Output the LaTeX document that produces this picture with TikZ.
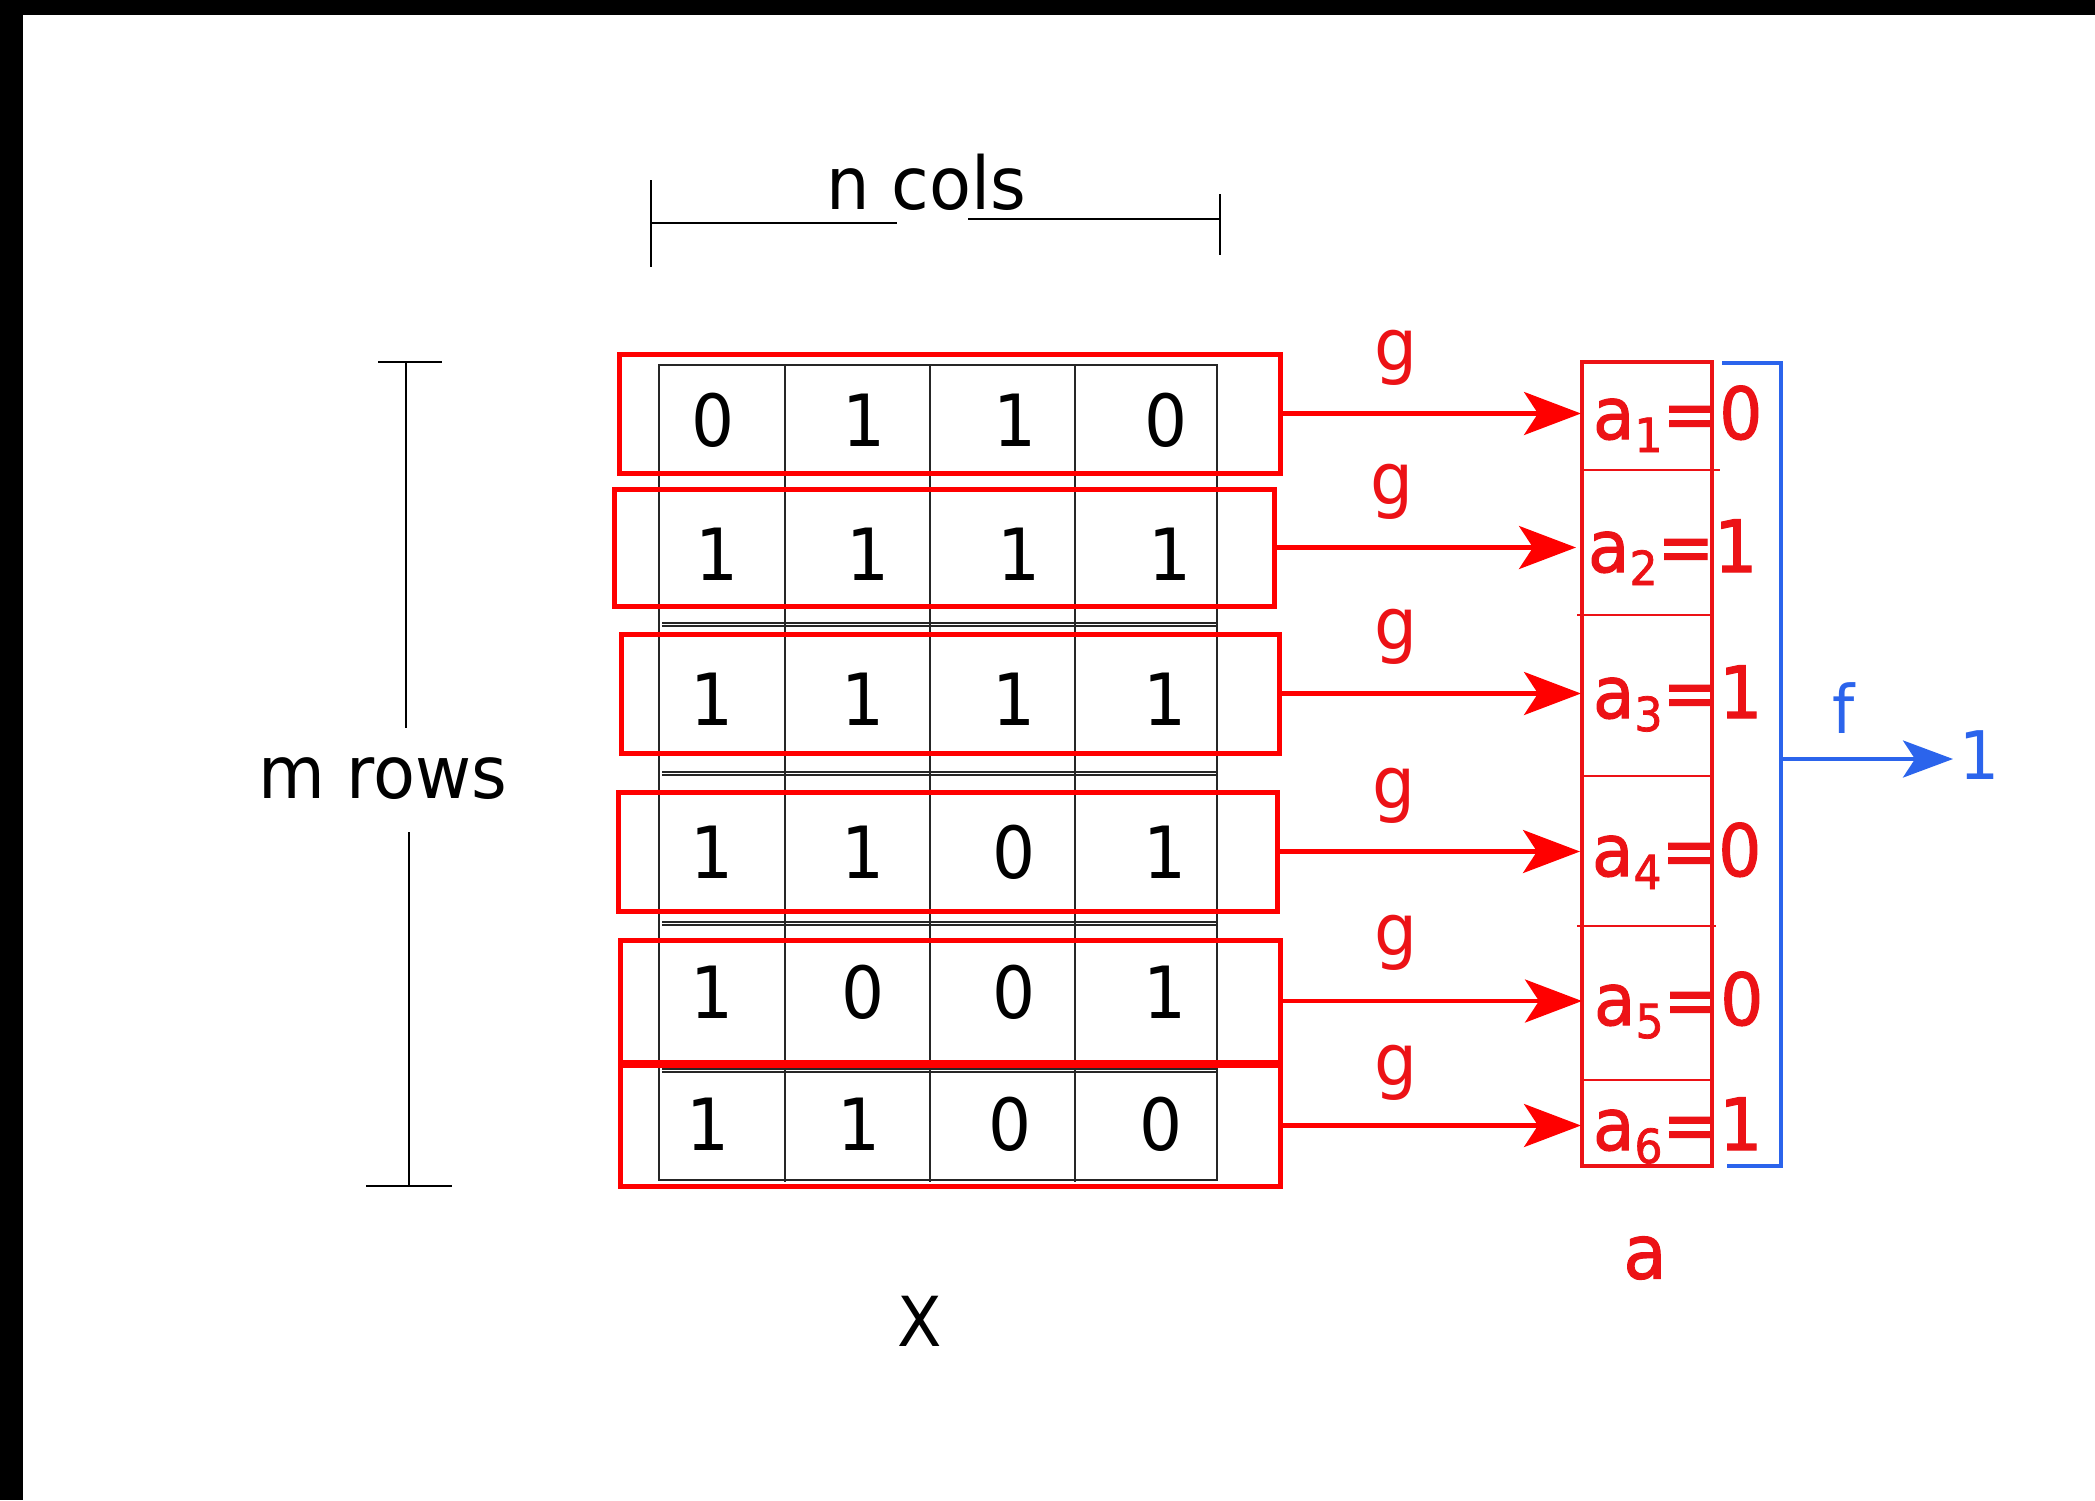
\documentclass[tikz,border=0pt]{standalone}
\usepackage{fontspec}
\setmainfont{DejaVu Sans}[FakeStretch=0.94]
\newfontfamily\heavylabel{DejaVu Sans}[FakeStretch=0.94, FakeBold=1.6]
\usetikzlibrary{arrows.meta}

\definecolor{boxred}{RGB}{255,0,0}
\definecolor{labelred}{RGB}{236,18,22}
\definecolor{fblue}{RGB}{43,100,236}

% a_i = value, with a lowered index
\newcommand\alabel[2]{a\raisebox{-13pt}{\fontsize{47}{47}\selectfont #1}=#2}

\begin{document}
\begin{tikzpicture}[x=1pt,y=-1pt,
  every node/.style={inner sep=0pt, outer sep=0pt},
  bline/.style={draw=black, line width=1.5pt},
  gridline/.style={draw=black!85, line width=1.4pt},
  rowbox/.style={draw=boxred, line width=5pt, outer sep=3pt},
  digit/.style={font=\fontsize{72}{80}\selectfont},
  bigtext/.style={font=\fontsize{73}{84}\selectfont},
  gtext/.style={font=\fontsize{72}{80}\selectfont, text=labelred},
  alab/.style={font=\heavylabel\fontsize{72}{80}\selectfont, text=labelred, anchor=base west, inner xsep=12pt},
  garrow/.style={draw=boxred, line width=4.2pt, -{Stealth[length=57pt, width=43pt, inset=14pt]}},
  acol/.style={draw=labelred, line width=4.2pt},
  asep/.style={draw=labelred, line width=1.5pt},
  fline/.style={draw=fblue, line width=4pt},
  farrow/.style={draw=fblue, line width=4pt, -{Stealth[length=50pt, width=37pt, inset=12pt]}},
  ftext/.style={font=\fontsize{67}{76}\selectfont, text=fblue}
]
% page and frame edges
\useasboundingbox (0,0) rectangle (2095,1500);
\fill[white] (0,0) rectangle (2095,1500);
\fill[black] (0,0) rectangle (2095,15);
\fill[black] (0,0) rectangle (23,1500);

% width bracket
\draw[bline] (651,180) -- (651,267);
\draw[bline] (651,223) -- (897,223);
\draw[bline] (968,219) -- (1220,219);
\draw[bline] (1220,194) -- (1220,255);
\node[bigtext, anchor=base] (ncols) at (926,209) {n cols};

% height bracket
\draw[bline] (378,362) -- (442,362);
\draw[bline] (406,362) -- (406,728);
\draw[bline] (409,832) -- (409,1186);
\draw[bline] (366,1186) -- (452,1186);
\node[bigtext, anchor=base] (mrows) at (383,798) {m rows};

% matrix grid
\draw[gridline] (659,365) rectangle (1217,1180);
\foreach \cx in {785,930,1075}
  \draw[gridline] (\cx,365) -- (\cx,1182);
\foreach \ry in {623,772,922,1069}{
  \draw[gridline] (662,\ry) -- (1216,\ry);
  \draw[gridline] (662,\ry+3) -- (1216,\ry+3);
}

% row frames
\node[rowbox, minimum width=661pt, minimum height=119pt] (r1) at (949.5,413.5) {};
\node[rowbox, minimum width=660pt, minimum height=117pt] (r2) at (944,547.5) {};
\node[rowbox, minimum width=658pt, minimum height=119pt] (r3) at (950,693.5) {};
\node[rowbox, minimum width=659pt, minimum height=119pt] (r4) at (947.5,851.5) {};
\node[rowbox, minimum width=660pt, minimum height=122pt] (r5) at (950,1001) {};
\node[rowbox, minimum width=660pt, minimum height=121pt] (r6) at (950,1125.5) {};

% matrix entries
\foreach \v [count=\j] in {0,1,1,0}
  \node[digit] (c1\j) at ({713+(\j-1)*151},420) {\v};
\foreach \v [count=\j] in {1,1,1,1}
  \node[digit] (c2\j) at ({717+(\j-1)*151},554) {\v};
\foreach \v [count=\j] in {1,1,1,1}
  \node[digit] (c3\j) at ({712+(\j-1)*151},699) {\v};
\foreach \v [count=\j] in {1,1,0,1}
  \node[digit] (c4\j) at ({712+(\j-1)*151},852) {\v};
\foreach \v [count=\j] in {1,0,0,1}
  \node[digit] (c5\j) at ({712+(\j-1)*151},992) {\v};
\foreach \v [count=\j] in {1,1,0,0}
  \node[digit] (c6\j) at ({708+(\j-1)*151},1124) {\v};

\node[bigtext, font=\fontsize{69}{78}\selectfont] (X) at (920,1321) {X};

% result column a
\draw[acol] (1582,362) rectangle (1712,1166);
\draw[asep] (1583,470) -- (1720,470);
\draw[asep] (1577,615) -- (1712,615);
\draw[asep] (1582,776) -- (1712,776);
\draw[asep] (1577,926) -- (1716,926);
\draw[asep] (1582,1080) -- (1712,1080);

\node[alab] (a1) at (1581,439) {\alabel{1}{0}};
\node[alab] (a2) at (1576,572) {\alabel{2}{1}};
\node[alab] (a3) at (1581,718) {\alabel{3}{1}};
\node[alab] (a4) at (1580,876) {\alabel{4}{0}};
\node[alab] (a5) at (1582,1025) {\alabel{5}{0}};
\node[alab] (a6) at (1581,1150) {\alabel{6}{1}};

\node[gtext, font=\heavylabel\fontsize{75}{84}\selectfont] (acap) at (1645,1258) {a};

% g maps each row to one entry of a
\foreach \i/\gx/\gy in {1/1396/358, 2/1392/492, 3/1396/637, 4/1394/796, 5/1396/943, 6/1396/1073}{
  \draw[garrow] (r\i.east) -- (r\i.east -| a\i.west);
  \node[gtext] (g\i) at (\gx,\gy) {g};
}

% f reduces a to one value
\draw[fline] (1722,363) -| (1781,1166) -- (1727,1166);
\coordinate (fork) at (1781,759);
\node[ftext, anchor=west, inner xsep=6pt] (out) at (1953,755) {1};
\draw[farrow] (fork) -- (fork -| out.west);
\node[ftext] (f) at (1844,708) {f};
\end{tikzpicture}
\end{document}
